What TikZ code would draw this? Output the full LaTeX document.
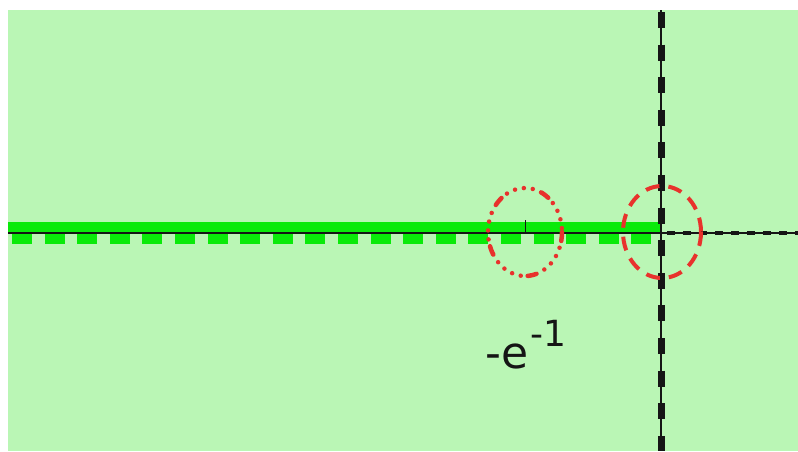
\documentclass[tikz,border=0pt]{standalone}
\usepackage{fontspec}
\setmainfont{DejaVu Sans}
\definecolor{bg}{HTML}{BAF6B5}
\definecolor{band}{HTML}{0AEA0A}
\definecolor{redc}{HTML}{E8322C}
\definecolor{ink}{HTML}{151515}
\tikzset{
  axisthin/.style={ink, line width=1.5},
  axisdash/.style={ink, line width=7, dash pattern=on 16 off 16.6},
  reddash/.style={redc, line width=4, dash pattern=on 14 off 9},
  reddot/.style={redc, line width=4.5, line cap=round, dash pattern=on 9 off 7 on 0 off 9 on 0 off 9 on 0 off 9 on 0 off 9},
}
\begin{document}
\begin{tikzpicture}[x=1pt,y=-1pt]
\useasboundingbox (0,0) rectangle (798,451);
\fill[white] (0,0) rectangle (798,451);
\fill[bg] (8,10) rectangle (798,451);
% green band on the negative axis
\fill[band] (8,222) rectangle (661,233);
\draw[band, line width=10, dash pattern=on 20 off 12.6] (12,239) -- (661,239);
\coordinate (L) at (8,233);
\coordinate (O) at (661,233);
\coordinate (R) at (798,233);
\coordinate (T) at (661,10);
\coordinate (B) at (661,451);
\draw[axisthin] (L) -- (O);
\draw[ink, line width=1.2] (O) -- (R);
\draw[ink, line width=4, dash pattern=on 8 off 8] (667,233) -- (R);
\draw[axisthin] (T) -- (B);
\draw[axisdash] (661,12) -- (661,451);
% tick at -1/e
\coordinate (tk) at (525,233);
\draw[ink, line width=1] (tk) -- ++(0,-13);
% red circles
\draw[reddot] (525,232) ellipse [x radius=37, y radius=44];
\draw[reddash] (662,232) ellipse [x radius=39, y radius=46];
% label
\node[ink, anchor=base west, inner sep=0] (lbl) at (485,368)
  {\fontsize{44}{48}\selectfont -e\kern2pt\raisebox{22pt}{\fontsize{36}{38}\selectfont -1}};
\end{tikzpicture}
\end{document}
